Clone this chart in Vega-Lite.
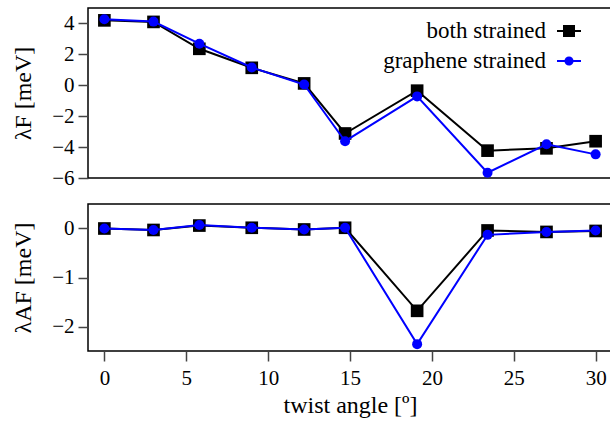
{
  "$schema": "https://vega.github.io/schema/vega-lite/v6.json",
  "padding": {"left": 10, "top": 7, "right": 0, "bottom": 0},
  "background": "white",
  "spacing": 26,
  "bounds": "flush",
  "config": {
    "font": "Liberation Serif",
    "view": {"stroke": "black", "strokeWidth": 1.5},
    "axis": {"grid": false, "domain": false, "tickSize": 10, "tickColor": "#444", "tickWidth": 1.5, "labelFont": "Liberation Serif", "labelFontSize": 21, "labelColor": "black", "labelPadding": 4, "titleFont": "Liberation Serif", "titleFontSize": 24, "titleFontWeight": "normal", "titleColor": "black"},
    "axisY": {"titlePadding": 16},
    "axisX": {"labelPadding": 6, "titlePadding": 5},
    "legend": {"orient": "none", "legendX": 469, "legendY": 11, "labelFont": "Liberation Serif", "labelFontSize": 23, "labelLimit": 400, "labelColor": "black", "labelAlign": "right", "labelOffset": -35, "symbolSize": 576, "symbolStrokeWidth": 0, "symbolOpacity": 1, "rowPadding": 6}
  },
  "data": {"values": [
    {"angle": 0.0, "series": "both strained", "lF": 4.2, "lAF": 0.0},
    {"angle": 3.0, "series": "both strained", "lF": 4.1, "lAF": -0.03},
    {"angle": 5.8, "series": "both strained", "lF": 2.36, "lAF": 0.06},
    {"angle": 9.0, "series": "both strained", "lF": 1.13, "lAF": 0.015},
    {"angle": 12.2, "series": "both strained", "lF": 0.12, "lAF": -0.02},
    {"angle": 14.7, "series": "both strained", "lF": -3.12, "lAF": 0.015},
    {"angle": 19.1, "series": "both strained", "lF": -0.35, "lAF": -1.68},
    {"angle": 23.4, "series": "both strained", "lF": -4.23, "lAF": -0.04},
    {"angle": 27.0, "series": "both strained", "lF": -4.08, "lAF": -0.07},
    {"angle": 30.0, "series": "both strained", "lF": -3.62, "lAF": -0.05},
    {"angle": 0.0, "series": "graphene strained", "lF": 4.27, "lAF": 0.0},
    {"angle": 3.0, "series": "graphene strained", "lF": 4.12, "lAF": -0.03},
    {"angle": 5.8, "series": "graphene strained", "lF": 2.69, "lAF": 0.07},
    {"angle": 9.0, "series": "graphene strained", "lF": 1.15, "lAF": 0.015},
    {"angle": 12.2, "series": "graphene strained", "lF": 0.05, "lAF": -0.02},
    {"angle": 14.7, "series": "graphene strained", "lF": -3.62, "lAF": 0.015},
    {"angle": 19.1, "series": "graphene strained", "lF": -0.72, "lAF": -2.36},
    {"angle": 23.4, "series": "graphene strained", "lF": -5.66, "lAF": -0.13},
    {"angle": 27.0, "series": "graphene strained", "lF": -3.82, "lAF": -0.07},
    {"angle": 30.0, "series": "graphene strained", "lF": -4.47, "lAF": -0.04}
  ]},
  "vconcat": [
    {
      "width": 524,
      "height": 170,
      "encoding": {
        "x": {"field": "angle", "type": "quantitative", "scale": {"domain": [-1, 31], "nice": false, "zero": false}, "axis": null},
        "y": {"field": "lF", "type": "quantitative", "title": "λF [meV]", "scale": {"domain": [-6, 5], "nice": false}, "axis": {"values": [-6, -4, -2, 0, 2, 4], "labelFont": "Liberation Serif"}}
      },
      "layer": [
        {"mark": {"type": "rule", "strokeDash": [2, 4], "strokeWidth": 1.3, "color": "black"}, "encoding": {"y": {"datum": 0, "type": "quantitative", "title": "λF [meV]"}}},
        {"transform": [{"filter": "datum.series === 'both strained'"}], "mark": {"type": "line", "strokeWidth": 2, "color": "black"}},
        {"transform": [{"filter": "datum.series === 'both strained'"}], "mark": {"type": "point", "filled": true, "shape": "square", "size": 160, "opacity": 1, "color": "black"}},
        {"transform": [{"filter": "datum.series === 'graphene strained'"}], "mark": {"type": "line", "strokeWidth": 2, "color": "#0000ff"}},
        {"transform": [{"filter": "datum.series === 'graphene strained'"}], "mark": {"type": "point", "filled": true, "shape": "circle", "size": 100, "opacity": 1, "color": "#0000ff"}},
        {"transform": [{"filter": "false"}], "mark": {"type": "point", "filled": true, "size": 576, "opacity": 1, "strokeWidth": 0},
         "encoding": {
           "color": {"field": "series", "type": "nominal", "scale": {"domain": ["both strained", "graphene strained"], "range": ["black", "#0000ff"]}, "legend": {"title": null}},
           "shape": {"field": "series", "type": "nominal", "scale": {"domain": ["both strained", "graphene strained"], "range": ["M-16,0M-1,-0.08H1V0.08H-1Z M-0.5,-0.5H0.5V0.5H-0.5Z", "M-16,0M-1,-0.08H1V0.08H-1Z M0.38,0A0.38,0.38 0 1,1 -0.38,0A0.38,0.38 0 1,1 0.38,0Z"]}, "legend": {"title": null}}
         }}
      ]
    },
    {
      "width": 524,
      "height": 147,
      "encoding": {
        "x": {"field": "angle", "type": "quantitative", "title": "twist angle [º]", "scale": {"domain": [-1, 31], "nice": false, "zero": false}, "axis": {"values": [0, 5, 10, 15, 20, 25, 30], "labelFont": "Liberation Serif"}},
        "y": {"field": "lAF", "type": "quantitative", "title": "λAF [meV]", "scale": {"domain": [-2.5, 0.5], "nice": false}, "axis": {"values": [-2, -1, 0], "labelFont": "Liberation Serif"}}
      },
      "layer": [
        {"mark": {"type": "rule", "strokeDash": [2, 4], "strokeWidth": 1.3, "color": "black"}, "encoding": {"y": {"datum": 0, "type": "quantitative", "title": "λAF [meV]"}}},
        {"transform": [{"filter": "datum.series === 'both strained'"}], "mark": {"type": "line", "strokeWidth": 2, "color": "black"}},
        {"transform": [{"filter": "datum.series === 'both strained'"}], "mark": {"type": "point", "filled": true, "shape": "square", "size": 160, "opacity": 1, "color": "black"}},
        {"transform": [{"filter": "datum.series === 'graphene strained'"}], "mark": {"type": "line", "strokeWidth": 2, "color": "#0000ff"}},
        {"transform": [{"filter": "datum.series === 'graphene strained'"}], "mark": {"type": "point", "filled": true, "shape": "circle", "size": 100, "opacity": 1, "color": "#0000ff"}}
      ]
    }
  ]
}
